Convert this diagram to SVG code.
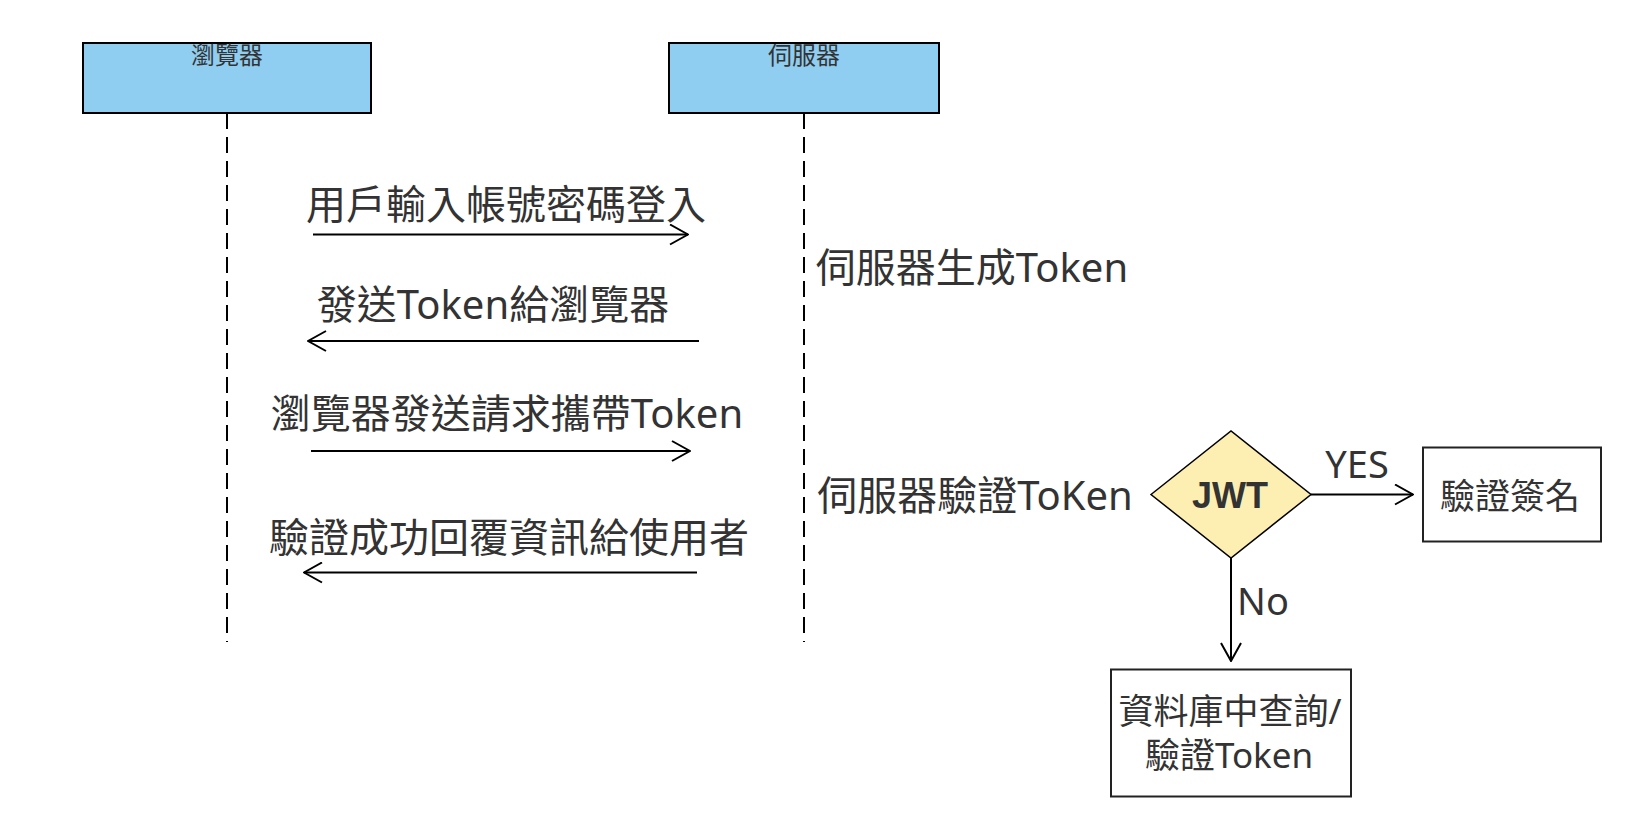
<svg xmlns="http://www.w3.org/2000/svg" width="1644" height="834" viewBox="0 0 1644 834">
<style>
.t{font-family:"Noto Sans","Noto Sans CJK TC",sans-serif;fill:#333;}
.msg{font-size:40px;}
.head{font-size:24px;}
.box{font-size:35px;}
.life{stroke:#000;stroke-width:2;stroke-dasharray:16 8;fill:none;}
.conn{stroke:#000;stroke-width:2;fill:none;}
</style>
<defs>
<marker id="arr" viewBox="0 0 20 22" refX="19" refY="11" markerWidth="20" markerHeight="22" markerUnits="userSpaceOnUse" orient="auto">
<path d="M1,1 L19,11 L1,21" fill="none" stroke="#000" stroke-width="2"/>
</marker>
</defs>
<rect width="1644" height="834" fill="#fff"/>

<g id="browser">
<rect x="83" y="43" width="288" height="70" fill="#8fcef1" stroke="#000" stroke-width="2"/>
<text class="t head" x="227" y="64" text-anchor="middle">瀏覽器</text>
</g>
<g id="server">
<rect x="669" y="43" width="270" height="70" fill="#8fcef1" stroke="#000" stroke-width="2"/>
<text class="t head" x="804" y="64" text-anchor="middle">伺服器</text>
</g>

<g id="connectors">
<line class="life" x1="227" y1="113" x2="227" y2="642"/>
<line class="life" x1="804" y1="113" x2="804" y2="642"/>
<line class="conn" x1="313" y1="234.5" x2="688" y2="234.5" marker-end="url(#arr)"/>
<line class="conn" x1="699" y1="341" x2="308" y2="341" marker-end="url(#arr)"/>
<line class="conn" x1="311" y1="451" x2="690" y2="451" marker-end="url(#arr)"/>
<line class="conn" x1="697" y1="572.5" x2="304" y2="572.5" marker-end="url(#arr)"/>
<line class="conn" x1="1311" y1="494.5" x2="1413" y2="494.5" marker-end="url(#arr)"/>
<line class="conn" x1="1231" y1="558" x2="1231" y2="661" marker-end="url(#arr)"/>
</g>

<g id="msg1"><text class="t msg" x="506" y="219" text-anchor="middle">用戶輸入帳號密碼登入</text></g>
<g id="msg2"><text class="t msg" x="493" y="319" text-anchor="middle">發送Token給瀏覽器</text></g>
<g id="msg3"><text class="t msg" x="507" y="428" text-anchor="middle">瀏覽器發送請求攜帶Token</text></g>
<g id="msg4"><text class="t msg" x="509" y="552" text-anchor="middle">驗證成功回覆資訊給使用者</text></g>
<g id="note1"><text class="t msg" x="972" y="282" text-anchor="middle">伺服器生成Token</text></g>
<g id="note2"><text class="t msg" x="975" y="510" text-anchor="middle">伺服器驗證ToKen</text></g>

<g id="jwt">
<polygon points="1151,494.5 1231,431 1311,494.5 1231,558" fill="#fdefb2" stroke="#000" stroke-width="1.5"/>
<text x="1230" y="507.5" text-anchor="middle" style="font-family:'Liberation Sans',Arial,sans-serif;font-weight:bold;font-size:36px;fill:#333;">JWT</text>
</g>
<g id="label-yes"><text class="t" x="1357" y="477.5" text-anchor="middle" style="font-size:38px;">YES</text></g>
<g id="label-no"><text class="t" x="1263" y="615" text-anchor="middle" style="font-size:38px;">No</text></g>

<g id="verify-sign">
<rect x="1423" y="447.5" width="178" height="94" fill="#fff" stroke="#222" stroke-width="2"/>
<text class="t box" x="1510" y="509" text-anchor="middle">驗證簽名</text>
</g>
<g id="db-query">
<rect x="1111" y="669.5" width="240" height="127" fill="#fff" stroke="#222" stroke-width="2"/>
<text class="t box" x="1230" y="724" text-anchor="middle">資料庫中查詢/</text>
<text class="t box" x="1229" y="768" text-anchor="middle">驗證Token</text>
</g>
</svg>
